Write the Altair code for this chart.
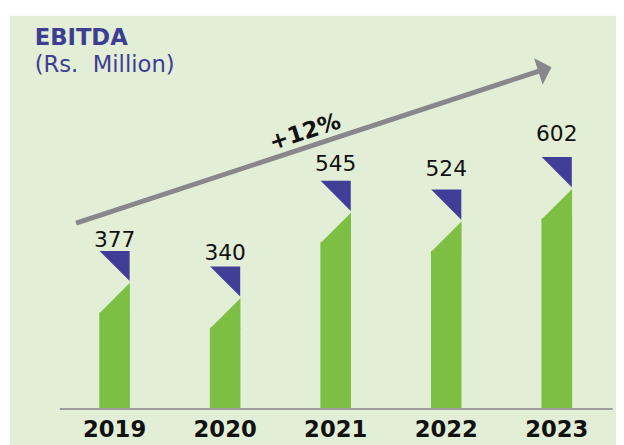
import altair as alt
import pandas as pd

# ---- data ----
years = ["2019", "2020", "2021", "2022", "2023"]
ebitda = [377, 340, 545, 524, 602]
# hand-placed gap (px) between each value label and its marker, as in the original
label_gap = [4, 7, 10, 14, 17]

title_main = "EBITDA"
title_unit = "(Rs.\u00a0 Million)"
growth_label = "+12%"

df = pd.DataFrame({"year": years, "value": ebitda, "gap": label_gap})

# ---- layout / styles ----
PLOT_H = 398
Y_MAX = 941
UNITS_PER_PX = Y_MAX / PLOT_H

GREEN = "#7dbf43"
BLUE = "#413e97"
PANEL = "#e2eed6"
ARROW = "#88888c"
TITLE = "#3e3d94"
FONT = "DejaVu Sans"

x = alt.X(
    "year:N",
    sort=years,
    scale=alt.Scale(paddingInner=0, paddingOuter=0),
    axis=alt.Axis(
        title=None, labelAngle=0, ticks=False, tickSize=0, labelPadding=28,
        labelBaseline="alphabetic", labelFont=FONT, labelFontSize=23,
        labelFontWeight="bold", labelColor="#111111", domainColor="#9c9c9c",
        domainWidth=2, zindex=1, grid=False,
    ),
)
yscale = alt.Scale(domain=[0, Y_MAX])
y = alt.Y("value:Q", scale=yscale, axis=None)

base = alt.Chart(df)
one = alt.Chart(pd.DataFrame({"k": [0]}))

panel = one.mark_rect(color=PANEL).encode(
    x=alt.value(-50), x2=alt.value(600), y=alt.value(0), y2=alt.value(440)
)

bars = base.mark_bar(color=GREEN, size=31, yOffset=62).encode(
    x=x, y=y, y2=alt.datum(0)
)

green_tri = base.mark_point(
    shape="M -1 1 L 1 1 L 1 -1 Z", filled=True, size=961, color=GREEN,
    opacity=1, strokeWidth=0, yOffset=47.5,
).encode(x=x, y=y)

blue_tri = base.mark_point(
    shape="M -1 -1 L 1 -1 L 1 1 Z", filled=True, size=930, color=BLUE,
    opacity=1, strokeWidth=0, yOffset=15,
).encode(x=x, y=y)

labels = base.transform_calculate(
    label_y=f"datum.value + datum.gap * {UNITS_PER_PX}"
).mark_text(
    font=FONT, fontSize=22, color="#111111", baseline="alphabetic"
).encode(
    x=x, y=alt.Y("label_y:Q", scale=yscale, axis=None), text="value:Q",
)

arrow_line = one.mark_rule(color=ARROW, strokeWidth=5).encode(
    x=alt.value(17), y=alt.value(210), x2=alt.value(486), y2=alt.value(56)
)
arrow_head = one.mark_point(
    shape="M -0.5 -1 L 0.5 0 L -0.5 1 Z", filled=True, size=784, color=ARROW,
    opacity=1, strokeWidth=0, angle=342,
).encode(x=alt.value(492), y=alt.value(54.3))

growth = one.mark_text(
    font=FONT, fontSize=23, fontWeight="bold", color="#111111", angle=342,
    align="center", baseline="middle",
).encode(x=alt.value(249), y=alt.value(118), text=alt.value(growth_label))

t1 = one.mark_text(
    font=FONT, fontSize=23, fontWeight="bold", color=TITLE, align="left",
    baseline="alphabetic",
).encode(x=alt.value(-25), y=alt.value(30), text=alt.value(title_main))

t2 = one.mark_text(
    font=FONT, fontSize=23, color=TITLE, align="left", baseline="alphabetic",
).encode(x=alt.value(-25), y=alt.value(57), text=alt.value(title_unit))

chart = (
    alt.layer(panel, bars, green_tri, blue_tri, labels, arrow_line, arrow_head,
              growth, t1, t2)
    .properties(
        width=560, height=PLOT_H,
        autosize=alt.AutoSizeParams(type="none"),
        padding={"left": 52, "top": 5, "right": 4, "bottom": 34},
    )
    .configure(background="white")
    .configure_view(strokeWidth=0)
)

chart.save("out.html", embed_options={"renderer": "svg", "actions": False})
